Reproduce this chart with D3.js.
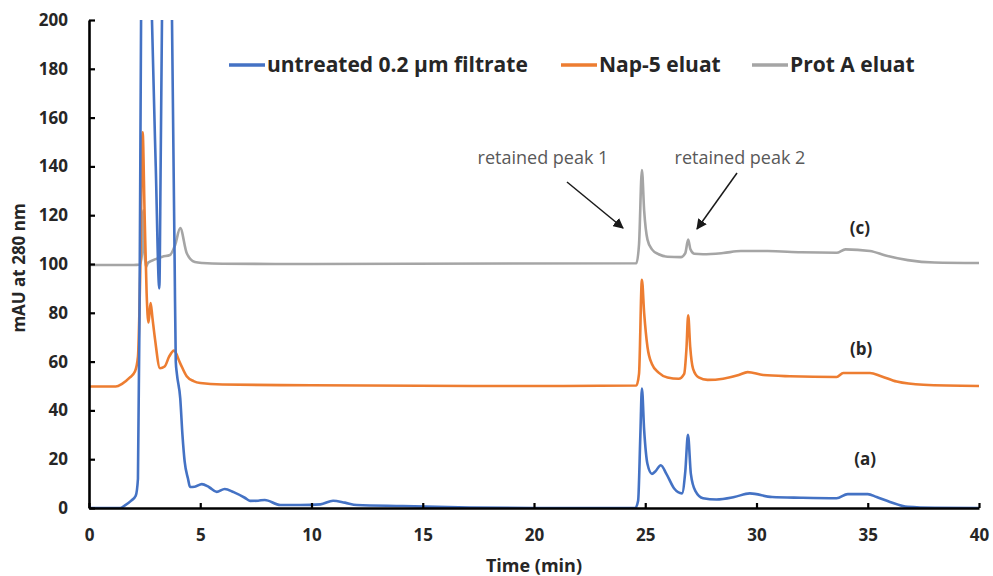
<!DOCTYPE html>
<html>
<head>
<meta charset="utf-8">
<script src="https://cdn.jsdelivr.net/npm/d3@7"></script>
<style>
  html, body { margin: 0; padding: 0; background: #fff; }
  svg { display: block; font-family: "Open Sans", Lato, sans-serif; }
</style>
</head>
<body>
<svg id="chart" width="993" height="576"></svg>
<script>
// ---------- DATA ----------
const seriesNames = ["untreated 0.2 \u00b5m filtrate", "Nap-5 eluat", "Prot A eluat"];
const seriesColors = ["#4472C4", "#ED7D31", "#A5A5A5"];
const xTicks = [0, 5, 10, 15, 20, 25, 30, 35, 40];
const yTicks = [0, 20, 40, 60, 80, 100, 120, 140, 160, 180, 200];

// (a) untreated 0.2 µm filtrate
const timeA = [0, 1.4, 1.6, 1.9, 2.1, 2.2, 2.27, 2.34, 2.45, 2.6, 2.83, 3.0, 3.16, 3.22, 3.28, 3.45, 3.6, 3.73, 3.85, 3.9, 3.95, 4.1, 4.2, 4.3, 4.45, 4.54, 4.75, 5.07, 5.4, 5.74, 6.1, 6.5, 7.0, 7.24, 7.6, 7.9, 8.6, 9.5, 10.4, 10.97, 11.5, 12.04, 14.1, 17.1, 20, 24.55, 24.68, 24.78, 24.85, 24.95, 25.1, 25.3, 25.45, 25.7, 25.95, 26.3, 26.65, 26.8, 26.92, 27.05, 27.25, 27.6, 28.2, 29, 29.7, 30.7, 32, 33.6, 34.1, 35, 35.4, 36, 36.8, 38, 40];
const valA  = [0, 0, 1, 3, 5, 12, 80, 200, 320, 320, 200, 140, 90, 140, 200, 320, 300, 200, 100, 60, 55, 45, 30, 19, 12, 8.6, 8.7, 9.8, 8.5, 6.6, 7.8, 6.5, 4.2, 2.9, 3.0, 3.3, 1.2, 1.2, 1.5, 3.0, 2.2, 1.2, 0.8, 0.2, 0, 0, 3, 30, 49, 32, 18, 14, 15, 17.5, 14, 8, 6, 15, 30, 14, 7, 4, 3.5, 4.5, 6, 4.5, 4.2, 4, 5.7, 5.7, 4.5, 2.5, 0.5, 0.1, 0];

// (b) Nap-5 eluat
const timeB = [0, 1.2, 1.5, 1.84, 2.07, 2.2, 2.3, 2.41, 2.5, 2.59, 2.67, 2.72, 2.77, 2.85, 2.97, 3.19, 3.4, 3.6, 3.82, 4.09, 4.39, 4.7, 5, 6, 10, 20, 24.6, 24.72, 24.85, 24.95, 25.1, 25.3, 25.6, 26, 26.5, 26.75, 26.85, 26.93, 27.02, 27.15, 27.4, 27.8, 28.5, 29.2, 29.6, 30.3, 31.5, 33.6, 33.9, 35.1, 35.6, 36.3, 37.5, 40];
const valB  = [49.8, 49.8, 51, 53.5, 56, 62, 95, 154, 120, 88, 76, 80, 84, 78, 69, 57.3, 58, 62, 64.5, 59.5, 54, 52, 51.2, 50.6, 50.3, 50, 50.2, 55, 93.5, 80, 66, 59, 55.5, 53.5, 53, 55, 65, 79, 66, 57, 53.5, 52.5, 53, 54.5, 55.7, 54.5, 54, 53.7, 55.3, 55.3, 54, 51.8, 50.5, 50];

// (c) Prot A eluat
const timeC = [0, 2.0, 2.29, 2.38, 2.44, 2.5, 2.56, 2.65, 3.0, 3.3, 3.64, 3.87, 4.1, 4.39, 4.76, 5.1, 6, 10, 24.6, 24.72, 24.85, 24.95, 25.1, 25.3, 25.6, 26, 26.6, 26.8, 26.93, 27.03, 27.2, 27.6, 28.5, 29.3, 30.5, 32, 33.6, 34, 35.1, 35.8, 36.8, 38, 40];
const valC  = [99.6, 99.6, 99.8, 104, 122, 105, 98.8, 100.5, 102, 103, 103.7, 107.8, 114.7, 104.5, 100.8, 100.4, 100.1, 100, 100.3, 108, 138.5, 122, 110, 106, 104, 103, 102.8, 104.5, 110, 106, 104.2, 104, 104.5, 105.3, 105.3, 104.8, 104.6, 106, 105.3, 103.5, 101.6, 100.6, 100.4];

const curveLabels = ["(a)", "(b)", "(c)"];
const curveLabelPos = [[34.88, 17.6], [34.7, 62.7], [34.65, 112.3]];   // data coords (time, mAU)
const annotations = ["retained peak 1", "retained peak 2"];

// ---------- LAYOUT ----------
const svg = d3.select("#chart");
const margin = { left: 89, right: 14, top: 20, bottom: 68 };
const W = 993, H = 576;
const x = d3.scaleLinear().domain([0, 40]).range([margin.left, W - margin.right]);
const y = d3.scaleLinear().domain([0, 200]).range([H - margin.bottom, margin.top]);

const defs = svg.append("defs");
defs.append("clipPath").attr("id", "plotclip")
  .append("rect")
  .attr("x", x(0)).attr("y", y(200))
  .attr("width", x(40) - x(0)).attr("height", y(0) - y(200));

const series = [
  { t: timeA, v: valA },
  { t: timeB, v: valB },
  { t: timeC, v: valC }
];

const line = d3.line()
  .x(d => x(d[0]))
  .y(d => y(d[1]))
  .curve(d3.curveMonotoneX);

const plot = svg.append("g").attr("clip-path", "url(#plotclip)");
[2, 1, 0].forEach(i => {
  const pts = series[i].t.map((t, k) => [t, series[i].v[k]]);
  plot.append("path")
    .datum(pts)
    .attr("fill", "none")
    .attr("stroke", seriesColors[i])
    .attr("stroke-width", 2.6)
    .attr("stroke-linejoin", "round")
    .attr("d", line);
});

// ---------- AXES ----------
const yAxis = d3.axisLeft(y).tickValues(yTicks).tickSizeInner(-6).tickSizeOuter(0).tickPadding(21);
const gy = svg.append("g").attr("transform", `translate(${x(0)},0)`).call(yAxis);
const xAxis = d3.axisBottom(x).tickValues(xTicks).tickSizeInner(-5).tickSizeOuter(0).tickPadding(21);
const gx = svg.append("g").attr("transform", `translate(0,${y(0)})`).call(xAxis);

[gx, gy].forEach(g => {
  g.select(".domain").attr("stroke", "#000").attr("stroke-width", 2.6);
  g.selectAll(".tick line").attr("stroke", "#000").attr("stroke-width", 2.2);
  g.selectAll(".tick text")
    .attr("fill", "#262626")
    .style("font-family", "'Open Sans', sans-serif")
    .style("font-size", "17px")
    .style("font-weight", "700");
});

// axis titles
svg.append("text")
  .attr("x", x(20)).attr("y", 572)
  .attr("text-anchor", "middle")
  .attr("fill", "#262626")
  .style("font-size", "18px").style("font-weight", "700")
  .text("Time (min)");

svg.append("text")
  .attr("transform", `translate(25,${268}) rotate(-90)`)
  .attr("text-anchor", "middle")
  .attr("fill", "#262626")
  .style("font-size", "17px").style("font-weight", "700")
  .text("mAU at 280 nm");

// ---------- LEGEND ----------
const legendX = [229, 561, 752];
const legend = svg.append("g");
seriesNames.forEach((name, i) => {
  const g = legend.append("g").attr("transform", `translate(${legendX[i]},65)`);
  g.append("line").attr("x1", 0).attr("x2", 36).attr("y1", 0).attr("y2", 0)
    .attr("stroke", seriesColors[i]).attr("stroke-width", 3.5);
  g.append("text").attr("x", 38).attr("y", 0).attr("dy", "0.35em")
    .attr("fill", "#262626")
    .style("font-size", "21px").style("font-weight", "700")
    .text(name);
});

// ---------- ANNOTATIONS ----------
defs.append("marker")
  .attr("id", "arrow").attr("viewBox", "0 0 10 10")
  .attr("refX", 9).attr("refY", 5)
  .attr("markerWidth", 7).attr("markerHeight", 7)
  .attr("markerUnits", "strokeWidth")
  .attr("orient", "auto")
  .append("path").attr("d", "M0,0 L10,5 L0,10 z").attr("fill", "#1a1a1a");

const annText = [[543, 164], [740, 164]];
const annArrow = [[[567, 182], [623, 228]], [[737, 173], [697, 229]]];
annotations.forEach((txt, i) => {
  svg.append("text")
    .attr("x", annText[i][0]).attr("y", annText[i][1])
    .attr("text-anchor", "middle")
    .attr("fill", "#595959")
    .style("font-size", "18px")
    .text(txt);
  svg.append("line")
    .attr("x1", annArrow[i][0][0]).attr("y1", annArrow[i][0][1])
    .attr("x2", annArrow[i][1][0]).attr("y2", annArrow[i][1][1])
    .attr("stroke", "#1a1a1a").attr("stroke-width", 1.5)
    .attr("marker-end", "url(#arrow)");
});

curveLabels.forEach((lab, i) => {
  svg.append("text")
    .attr("x", x(curveLabelPos[i][0])).attr("y", y(curveLabelPos[i][1]))
    .attr("text-anchor", "middle")
    .attr("fill", "#262626")
    .style("font-size", "17px").style("font-weight", "700")
    .text(lab);
});
</script>
</body>
</html>
